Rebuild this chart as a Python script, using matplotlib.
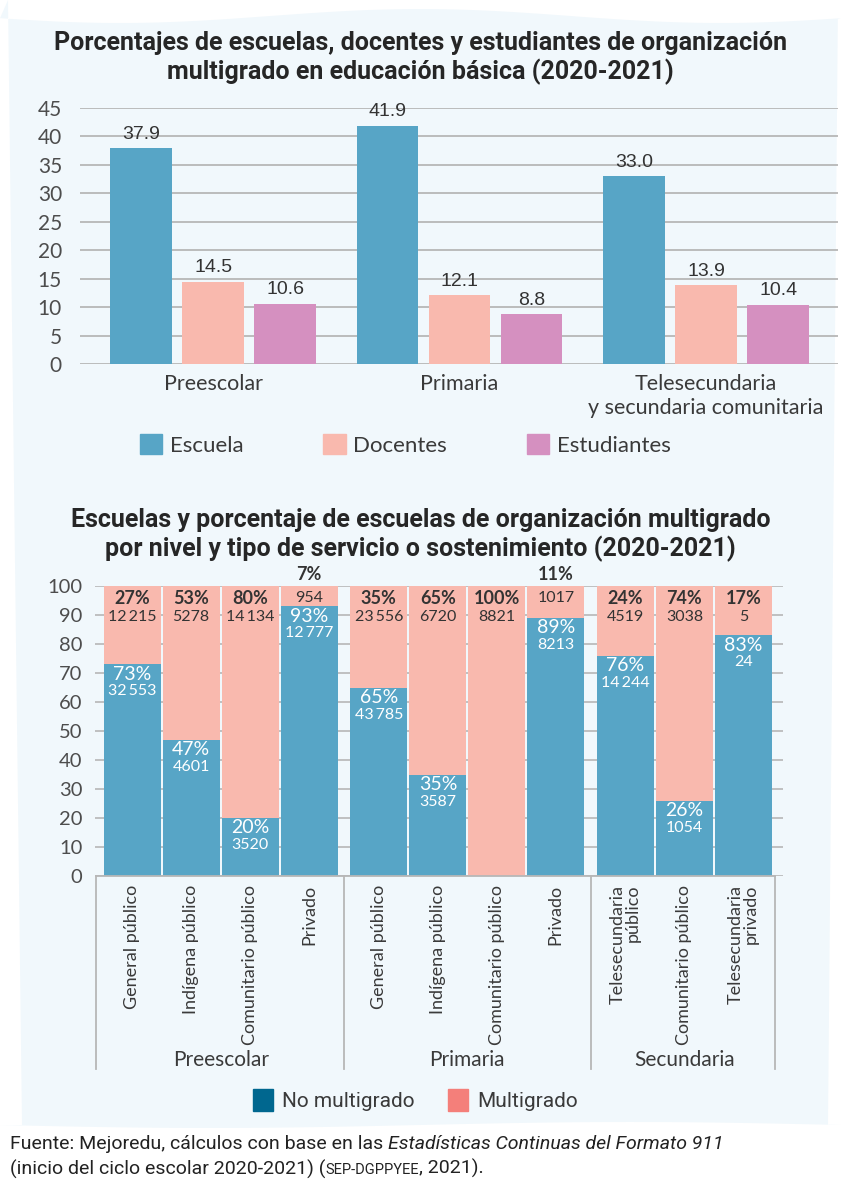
import numpy as np
import matplotlib
matplotlib.use('Agg')
import matplotlib.pyplot as plt
from matplotlib import font_manager
from matplotlib.patches import Patch, Polygon
from matplotlib.transforms import blended_transform_factory

# fuentes
nombres = {f.name for f in font_manager.fontManager.ttflist}
NARROW = 'Liberation Sans Narrow' if 'Liberation Sans Narrow' in nombres else 'Roboto'
BODY = 'Lato' if 'Lato' in nombres else 'DejaVu Sans'
plt.rcParams['font.family'] = [BODY, 'DejaVu Sans']

# datos grafica 1
niveles = ['Preescolar', 'Primaria', 'Telesecundaria\ny secundaria comunitaria']
escuela = [37.9, 41.9, 33.0]
docentes = [14.5, 12.1, 13.9]
estudiantes = [10.6, 8.8, 10.4]

# datos grafica 2
servicios = ['General público', 'Indígena público', 'Comunitario público', 'Privado',
             'General público', 'Indígena público', 'Comunitario público', 'Privado',
             'Telesecundaria\npúblico', 'Comunitario público', 'Telesecundaria\nprivado']
grupos = ['Preescolar', 'Primaria', 'Secundaria']
grupo_n = [4, 4, 3]
pct_no = [73, 47, 20, 93, 65, 35, 0, 89, 76, 26, 83]
pct_multi = [27, 53, 80, 7, 35, 65, 100, 11, 24, 74, 17]
n_no = [32553, 4601, 3520, 12777, 43785, 3587, 0, 8213, 14244, 1054, 24]
n_multi = [12215, 5278, 14134, 954, 23556, 6720, 8821, 1017, 4519, 3038, 5]

AZUL = '#57a5c6'
ROSA = '#f9b9ae'
MORADO = '#d590c0'
GRIS = '#b7b7b7'
TXT = '#333333'

fig = plt.figure(figsize=(8.41, 11.9), dpi=100)
fig.patch.set_facecolor('white')

# fondo azul claro con bordes ondulados
bg = fig.add_axes([0, 0, 1, 1], zorder=-5)
bg.set_xlim(0, 841)
bg.set_ylim(1190, 0)
bg.axis('off')
xs = np.linspace(0, 841, 60)
top = 16 + 7 * np.cos((xs - 120) / 841 * 2 * np.pi * 1.4)
ys = np.linspace(0, 1125, 60)
right = 838 - 10 * ys / 1125
left = 8 + 14 * ys / 1125
bottom = 1125 + 3 * np.sin(xs / 841 * 2 * np.pi)
pts = list(zip(xs, top)) + list(zip(right, ys))[1:] + list(zip(xs[::-1], bottom[::-1])) + list(zip(left[::-1], ys[::-1]))
bg.add_patch(Polygon(pts, closed=True, facecolor='#f1f8fc', edgecolor='none'))

# ---------- grafica 1 ----------
fig.text(0.5, 1 - 58 / 1190,
         'Porcentajes de escuelas, docentes y estudiantes de organización\nmultigrado en educación básica (2020-2021)',
         ha='center', va='center', fontsize=18, weight='bold', family=NARROW,
         color='#262626', linespacing=1.15)

ax1 = fig.add_axes([80 / 841, 1 - 364 / 1190, (838 - 80) / 841, 256 / 1190])
ax1.set_facecolor('none')
x = np.arange(len(niveles))
w = 0.25
sep = 0.292
series = [(escuela, AZUL, 'Escuela'), (docentes, ROSA, 'Docentes'), (estudiantes, MORADO, 'Estudiantes')]
handles = []
for k, (vals, col, lab) in enumerate(series):
    bars = ax1.bar(x + (k - 1) * sep, vals, w, color=col, zorder=3)
    for b, v in zip(bars, vals):
        ax1.annotate(f'{v:.1f}', (b.get_x() + b.get_width() / 2, v), xytext=(0, 10),
                     textcoords='offset points', ha='center', va='center',
                     fontsize=14, color=TXT, family=['Liberation Sans', 'DejaVu Sans'])
    handles.append(Patch(color=col, label=lab))
ax1.set_ylim(0, 45)
ax1.set_xlim(-0.54, 2.535)
ax1.set_yticks(range(0, 50, 5))
ax1.yaxis.grid(True, color=GRIS, lw=1.3, zorder=0)
for s in ax1.spines.values():
    s.set_visible(False)
ax1.set_xticks(x)
ax1.set_xticklabels(niveles, fontsize=15.5, color='#3a3a3a', linespacing=1.25)
ax1.tick_params(axis='both', length=0)
ax1.tick_params(axis='y', labelsize=15, labelcolor='#4d4d4d', pad=13)
ax1.tick_params(axis='x', pad=7)

fig.legend(handles=handles, loc='center', bbox_to_anchor=(0.482, 1 - 445 / 1190), ncol=3,
           frameon=False, fontsize=16, handlelength=1.0, handleheight=1.0,
           handletextpad=0.35, columnspacing=3.6, labelcolor='#3a3a3a')

# ---------- grafica 2 ----------
fig.text(0.5, 1 - 535 / 1190,
         'Escuelas y porcentaje de escuelas de organización multigrado\npor nivel y tipo de servicio o sostenimiento (2020-2021)',
         ha='center', va='center', fontsize=18, weight='bold', family=NARROW,
         color='#262626', linespacing=1.15)

ax2 = fig.add_axes([95 / 841, 1 - 876 / 1190, (783 - 95) / 841, 290 / 1190])
ax2.set_facecolor('none')
gap = 0.18
pos = []
g_centros = []
g_bordes = [-0.5 - 0.12]
i = 0
for gi, n in enumerate(grupo_n):
    p = [i + j + gap * gi for j in range(n)]
    pos += p
    g_centros.append((p[0] + p[-1]) / 2)
    g_bordes.append(p[-1] + 0.5 + gap / 2)
    i += n
pos = np.array(pos)
g_bordes[-1] = pos[-1] + 0.5 + 0.04

bw = 0.965
ax2.bar(pos, pct_no, bw, color=AZUL, zorder=3)
ax2.bar(pos, pct_multi, bw, bottom=pct_no, color=ROSA, zorder=3)

def fmt(n):
    s = f'{n:,}'
    return s.replace(',', '\u2009') if n >= 10000 else s.replace(',', '')

for xp, pn, pm, nn, nm in zip(pos, pct_no, pct_multi, n_no, n_multi):
    # multigrado (arriba)
    if pm >= 15:
        ax2.annotate(f'{pm}%', (xp, 100), xytext=(0, -9), textcoords='offset points',
                     ha='center', va='center', fontsize=13, weight='bold', color=TXT)
        ax2.annotate(fmt(nm), (xp, 100), xytext=(0, -22), textcoords='offset points',
                     ha='center', va='center', fontsize=11.5, color=TXT)
    else:
        ax2.annotate(f'{pm}%', (xp, 100), xytext=(0, 8), textcoords='offset points',
                     ha='center', va='center', fontsize=13, weight='bold', color=TXT)
        ax2.annotate(fmt(nm), (xp, 100), xytext=(0, -9), textcoords='offset points',
                     ha='center', va='center', fontsize=11.5, color=TXT)
    # no multigrado
    if pn > 0:
        ax2.annotate(f'{pn}%', (xp, pn), xytext=(0, -7), textcoords='offset points',
                     ha='center', va='center', fontsize=14, color='white')
        ax2.annotate(fmt(nn), (xp, pn), xytext=(0, -19.5), textcoords='offset points',
                     ha='center', va='center', fontsize=11.5, color='white')

ax2.set_ylim(0, 100)
ax2.set_xlim(-0.63, pos[-1] + 0.5 + 0.17)
ax2.set_yticks(range(0, 110, 10))
ax2.yaxis.grid(True, color=GRIS, lw=1.2, zorder=0)
for s in ax2.spines.values():
    s.set_visible(False)
ax2.set_xticks([])
ax2.tick_params(axis='y', length=0, labelsize=14.5, labelcolor='#4d4d4d', pad=9)

tr = blended_transform_factory(ax2.transData, ax2.transAxes)
ax2.plot([g_bordes[0], g_bordes[-1]], [0, 0], transform=tr, color=GRIS, lw=1.3, clip_on=False, zorder=4)
for b in g_bordes:
    ax2.plot([b, b], [0, -0.665], transform=tr, color=GRIS, lw=1.3, clip_on=False)
for xp, lab in zip(pos, servicios):
    ax2.text(xp, -0.03, lab, transform=tr, rotation=90, ha='center', va='top',
             multialignment='right', fontsize=13, color='#3a3a3a', linespacing=0.95)
for c, g in zip(g_centros, grupos):
    ax2.text(c, -0.635, g, transform=tr, ha='center', va='center', fontsize=15, color='#3a3a3a')

h2 = [Patch(color='#00678f', label='No multigrado'), Patch(color='#f47f7a', label='Multigrado')]
fig.legend(handles=h2, loc='center', bbox_to_anchor=(0.4935, 1 - 1100 / 1190), ncol=2,
           frameon=False, handlelength=1.0, handleheight=1.2, handletextpad=0.4,
           columnspacing=1.6, labelcolor='#3a3a3a', prop={'family': NARROW, 'size': 15})

# ---------- fuente ----------
fs = 14
t1 = fig.text(10 / 841, 1 - 1153 / 1190, 'Fuente: Mejoredu, cálculos con base en las ',
              fontsize=fs, family=NARROW, color='#222222', va='bottom')
t2 = bg.annotate('Estadísticas Continuas del Formato 911', xy=(1, 0), xycoords=t1,
                 fontsize=fs, family=NARROW, style='italic', color='#222222', va='bottom')
t3 = fig.text(10 / 841, 1 - 1179 / 1190, '(inicio del ciclo escolar 2020-2021) (',
              fontsize=fs, family=NARROW, color='#222222', va='bottom')
t4 = bg.annotate('SEP-DGPPYEE', xy=(1, 0.1), xycoords=t3,
                 fontsize=fs - 3.5, family=NARROW, color='#222222', va='bottom')
t5 = bg.annotate(', 2021).', xy=(1, -0.1), xycoords=t4,
                 fontsize=fs, family=NARROW, color='#222222', va='bottom')

fig.savefig('out.png', dpi=100, facecolor='white')
